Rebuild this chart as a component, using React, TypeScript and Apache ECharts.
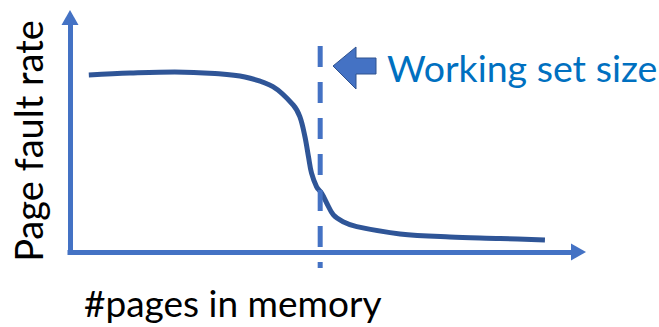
import React, { useEffect, useRef } from "react";
import * as echarts from "echarts";

// Curve: page fault rate vs #pages in memory (x, y in axis units 0..100)
const curveX = [3.7, 11.8, 20.6, 28.5, 34.4, 39.9, 43.9, 45.2, 46.2, 46.9, 47.5, 48.5, 49.5, 50.5, 51.8, 53.7, 56.4, 64.9, 74.7, 84.6, 93.4];
const curveY = [75.5, 76.3, 76.8, 76.1, 74.6, 70.5, 62.7, 57.7, 49.2, 40.6, 33.6, 27.8, 25.0, 20.8, 15.8, 12.9, 10.8, 7.7, 6.4, 5.8, 5.1];

// Working set size marker (x position and vertical extent of the dashed line)
const workingSetX = 49.2;
const workingSetYRange = [87.8, -6.8];

const xAxisTitle = "#pages in memory";
const yAxisTitle = "Page fault rate";
const markerLabel = "Working set size";

const AXIS_COLOR = "#4472C4";
const CURVE_COLOR = "#2F5597";
const FONT = "Lato, 'Open Sans', sans-serif";

export default function App() {
  const ref = useRef<HTMLDivElement>(null);

  useEffect(() => {
    if (!ref.current) return;
    const chart = echarts.init(ref.current, undefined, { renderer: "svg" });

    const axisCommon = {
      type: "value" as const,
      min: 0,
      max: 100,
      axisLabel: { show: false },
      axisTick: { show: false },
      splitLine: { show: false },
      axisLine: {
        show: true,
        symbol: ["none", "triangle"],
        symbolSize: [17, 15],
        lineStyle: { color: AXIS_COLOR, width: 5, cap: "square" },
      },
    };

    chart.setOption({
      animation: false,
      grid: { left: 70, right: 80.5, top: 17.5, bottom: 75, containLabel: false },
      xAxis: axisCommon,
      yAxis: axisCommon,
      series: [
        {
          type: "line",
          data: curveX.map((x, i) => [x, curveY[i]]),
          smooth: 0.35,
          symbol: "none",
          lineStyle: { color: CURVE_COLOR, width: 5 },
          z: 3,
        },
        {
          type: "line",
          data: workingSetYRange.map((y) => [workingSetX, y]),
          symbol: "none",
          clip: false,
          lineStyle: { color: AXIS_COLOR, width: 5, type: [21, 15] },
          z: 4,
        },
      ],
      graphic: [
        {
          type: "polygon",
          shape: {
            points: [
              [333, 66],
              [356, 47],
              [356, 58],
              [376, 58],
              [376, 74],
              [356, 74],
              [356, 89],
            ],
          },
          style: { fill: AXIS_COLOR, stroke: "#2F528F", lineWidth: 1 },
          z: 10,
        },
        {
          type: "text",
          x: 387,
          y: 67.5,
          style: {
            text: markerLabel,
            fill: "#0070C0",
            font: `37.5px ${FONT}`,
            textAlign: "left",
            textVerticalAlign: "middle",
          },
          z: 10,
        },
        {
          type: "text",
          x: 84,
          y: 302.5,
          style: {
            text: xAxisTitle,
            fill: "#000000",
            font: `37px ${FONT}`,
            textAlign: "left",
            textVerticalAlign: "middle",
          },
          z: 10,
        },
        {
          type: "text",
          x: 27.5,
          y: 141,
          rotation: Math.PI / 2,
          style: {
            text: yAxisTitle,
            fill: "#000000",
            font: `38px ${FONT}`,
            textAlign: "center",
            textVerticalAlign: "middle",
          },
          z: 10,
        },
      ],
    });

    return () => chart.dispose();
  }, []);

  return (
    <div
      ref={ref}
      style={{ position: "absolute", left: 0, top: 0, width: 659, height: 327, background: "#ffffff" }}
    />
  );
}
